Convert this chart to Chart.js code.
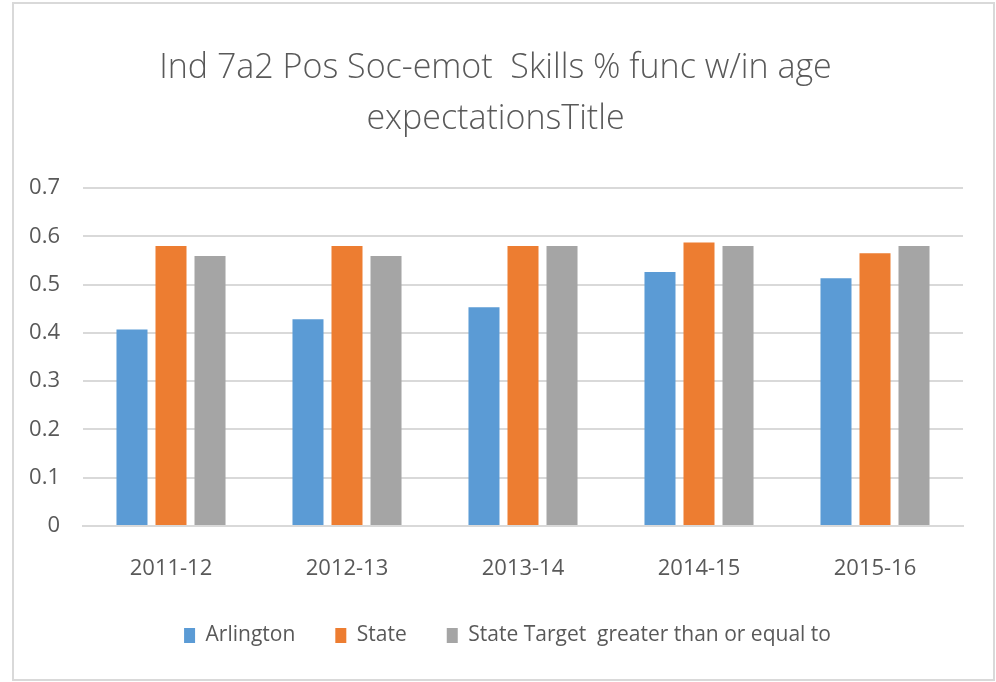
<!DOCTYPE html>
<html>
<head>
<meta charset="utf-8">
<script src="https://cdn.jsdelivr.net/npm/chart.js@4.4.1/dist/chart.umd.min.js"></script>
<style>
  html, body { margin: 0; padding: 0; background: #ffffff; }
  #wrap { width: 996px; height: 682px; position: relative; }
</style>
</head>
<body>
<div id="wrap"><canvas id="c" width="996" height="682"></canvas></div>
<script>
const categories = ["2011-12", "2012-13", "2013-14", "2014-15", "2015-16"];
const arlington = [0.407, 0.428, 0.453, 0.526, 0.513];
const state = [0.580, 0.580, 0.580, 0.587, 0.565];
const stateTarget = [0.559, 0.559, 0.580, 0.580, 0.580];
const seriesNames = ["Arlington", "State", "State Target  greater than or equal to"];
const titleLines = ["Ind 7a2 Pos Soc-emot  Skills % func w/in age", "expectationsTitle"];
const yMin = 0, yMax = 0.7, yStep = 0.1;

const FONT = "'Open Sans', 'Liberation Sans', sans-serif";

const frame = {
  id: 'frame',
  beforeDraw(chart) {
    const ctx = chart.ctx;
    ctx.save();
    ctx.fillStyle = '#ffffff';
    ctx.fillRect(0, 0, chart.width, chart.height);
    ctx.strokeStyle = '#d9d9d9';
    ctx.lineWidth = 2;
    ctx.strokeRect(13, 3, 981, 677);
    ctx.restore();
  }
};

// nudge the legend row slightly right, as in the reference
const legendShift = {
  id: 'legendShift',
  afterLayout(chart) {
    if (chart.legend) { chart.legend.left += 12; chart.legend.right += 12; }
  }
};

new Chart(document.getElementById('c'), {
  type: 'bar',
  data: {
    labels: categories,
    datasets: [
      { label: seriesNames[0], data: arlington, backgroundColor: '#5B9BD5' },
      { label: seriesNames[1], data: state, backgroundColor: '#ED7D31' },
      { label: seriesNames[2], data: stateTarget, backgroundColor: '#A5A5A5' }
    ]
  },
  options: {
    responsive: false,
    animation: false,
    devicePixelRatio: 1,
    categoryPercentage: 0.665,
    barPercentage: 0.795,
    layout: { padding: { left: 28, right: 33, top: 43, bottom: 26 } },
    plugins: {
      title: {
        display: true,
        text: titleLines,
        color: '#595959',
        font: { family: FONT, size: 34, weight: '300', lineHeight: 1.5 },
        padding: { top: 0, bottom: 43 }
      },
      legend: {
        position: 'bottom',
        labels: {
          color: '#595959',
          font: { family: FONT, size: 21 },
          boxWidth: 11,
          boxHeight: 15,
          padding: 40
        }
      },
      tooltip: { enabled: false }
    },
    scales: {
      x: {
        grid: { display: false, drawTicks: false },
        border: { color: '#d9d9d9', width: 2 },
        ticks: { color: '#595959', font: { family: FONT, size: 22 }, padding: 30 },
        afterFit(scale) { scale.height = 59; }
      },
      y: {
        min: yMin, max: yMax,
        grid: { color: '#d9d9d9', lineWidth: 2, drawTicks: false },
        border: { display: false },
        ticks: {
          stepSize: yStep,
          color: '#595959',
          font: { family: FONT, size: 22 },
          padding: 23,
          callback: v => String(Math.round(v * 10) / 10)
        },
        afterFit(scale) { scale.width = 55; }
      }
    }
  },
  plugins: [frame, legendShift]
});
</script>
</body>
</html>
